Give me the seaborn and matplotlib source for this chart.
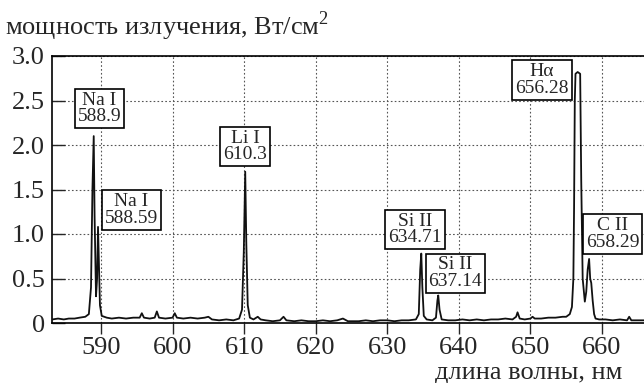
import matplotlib
matplotlib.use("Agg")
import matplotlib.pyplot as plt
import seaborn as sns
import pandas as pd

# wavelength (nm) and radiation power (W/cm^2)
wavelength = [583.2, 584.0, 584.8, 585.5, 586.3, 587.0, 587.8, 588.3, 588.6, 588.8,
              588.98, 589.1, 589.3, 589.45, 589.58, 589.7, 589.85, 590.1, 590.8, 591.5,
              592.5, 593.5, 594.5, 595.4, 595.7, 596.0, 596.8, 597.5, 597.8, 598.1,
              599.0, 600.0, 600.3, 600.6, 601.5, 602.5, 603.5, 604.5, 605.0, 605.5,
              606.5, 607.5, 608.5, 609.3, 609.7, 609.95, 610.15, 610.3, 610.5, 610.8,
              611.3, 611.9, 612.3, 613.0, 614.0, 615.0, 615.5, 615.9, 617.0, 618.0,
              619.0, 620.0, 621.0, 622.0, 623.0, 623.8, 624.5, 626.0, 627.0, 628.0,
              629.0, 630.0, 631.0, 632.0, 633.0, 634.0, 634.4, 634.6, 634.75, 634.9,
              635.1, 635.5, 636.3, 636.8, 637.0, 637.12, 637.3, 637.6, 638.5, 639.5,
              640.5, 641.5, 642.5, 643.5, 644.5, 645.5, 646.5, 647.5, 648.0, 648.2,
              648.5, 649.2, 650.0, 650.3, 650.6, 651.5, 652.5, 653.5, 654.5, 655.0,
              655.5, 655.8, 656.0, 656.1, 656.2, 656.3, 656.6, 656.95, 657.1, 657.3,
              657.6, 657.8, 658.0, 658.2, 658.35, 658.5, 658.7, 658.9, 659.1, 659.6,
              660.5, 661.5, 662.5, 663.5, 663.8, 664.1, 665.0, 665.9]
power = [0.04, 0.05, 0.04, 0.05, 0.05, 0.06, 0.07, 0.10, 0.40, 1.50,
         2.10, 1.20, 0.30, 0.50, 1.08, 0.70, 0.20, 0.08, 0.06, 0.05,
         0.06, 0.05, 0.06, 0.06, 0.11, 0.06, 0.05, 0.06, 0.13, 0.06,
         0.05, 0.06, 0.11, 0.06, 0.05, 0.06, 0.05, 0.06, 0.07, 0.04,
         0.03, 0.04, 0.03, 0.05, 0.15, 0.80, 1.70, 0.90, 0.20, 0.06,
         0.04, 0.07, 0.04, 0.03, 0.02, 0.03, 0.07, 0.03, 0.02, 0.03,
         0.02, 0.02, 0.03, 0.02, 0.03, 0.05, 0.02, 0.02, 0.03, 0.02,
         0.03, 0.03, 0.02, 0.03, 0.03, 0.04, 0.10, 0.60, 0.78, 0.40,
         0.08, 0.04, 0.03, 0.06, 0.25, 0.31, 0.15, 0.04, 0.03, 0.03,
         0.04, 0.03, 0.04, 0.03, 0.04, 0.04, 0.05, 0.04, 0.07, 0.12,
         0.05, 0.04, 0.05, 0.07, 0.05, 0.05, 0.06, 0.06, 0.07, 0.07,
         0.10, 0.18, 0.50, 1.30, 2.50, 2.80, 2.82, 2.80, 1.60, 0.50,
         0.24, 0.35, 0.60, 0.72, 0.50, 0.45, 0.25, 0.10, 0.05, 0.04,
         0.04, 0.03, 0.04, 0.03, 0.07, 0.03, 0.03, 0.03]

# line annotations
line_labels = ["Na I\n588.9", "Na I\n588.59", "Li I\n610.3", "Si II\n634.71",
               "Si II\n637.14", "Hα\n656.28", "C II\n658.29"]
label_x = [589.75, 594.2, 610.15, 633.9, 639.5, 651.6, 661.5]
label_y = [2.41, 1.27, 1.98, 1.05, 0.56, 2.73, 1.0]

x_ticks = [590, 600, 610, 620, 630, 640, 650, 660]
y_ticks = [0, 0.5, 1.0, 1.5, 2.0, 2.5, 3.0]
y_tick_labels = ["0", "0.5", "1.0", "1.5", "2.0", "2.5", "3.0"]

sns.set_style("ticks")
plt.rcParams["font.family"] = ["Liberation Serif", "DejaVu Serif"]
plt.rcParams["mathtext.fontset"] = "custom"
plt.rcParams["mathtext.rm"] = "Liberation Serif"

W, H = 644, 383
fig = plt.figure(figsize=(W / 100, H / 100), dpi=100)
ax = fig.add_axes([52 / W, (H - 323) / H, (W - 52) / W, (323 - 56) / H])

df = pd.DataFrame({"wl": wavelength, "p": power})
sns.lineplot(data=df, x="wl", y="p", ax=ax, color="#111111", lw=1.3,
             estimator=None, sort=False, zorder=3)

ax.set_xlim(583.15, 665.87)
ax.set_ylim(0, 3.0)
ax.set_xticks(x_ticks)
ax.set_xticklabels([str(v) for v in x_ticks])
ax.set_yticks(y_ticks)
ax.set_yticklabels(y_tick_labels)
ax.set_xlabel("")
ax.set_ylabel("")

ax.grid(True, linestyle=(0, (1.5, 2)), color="#555555", linewidth=0.8, zorder=1)
for s in ["left", "top", "bottom"]:
    ax.spines[s].set_linewidth(1.2)
    ax.spines[s].set_color("black")
ax.spines["right"].set_visible(False)

ax.tick_params(axis="y", direction="in", length=9, width=1.0, labelsize=19, pad=5)
ax.tick_params(axis="x", direction="out", length=8, width=1.0, labelsize=19, pad=2)

for t, xv, yv in zip(line_labels, label_x, label_y):
    ax.text(xv, yv, t, ha="center", va="center", fontsize=14, linespacing=0.95,
            zorder=5, clip_on=False,
            bbox=dict(boxstyle="square,pad=0.15", fc="white", ec="black", lw=1.2))

fig.text(5 / W, (H - 35) / H, "мощность излучения, Вт/см$^{2}$", ha="left",
         va="baseline", fontsize=19)
fig.text(622 / W, (H - 379) / H, "длина волны, нм", ha="right", va="baseline",
         fontsize=19)

fig.savefig("out.png", dpi=100)
